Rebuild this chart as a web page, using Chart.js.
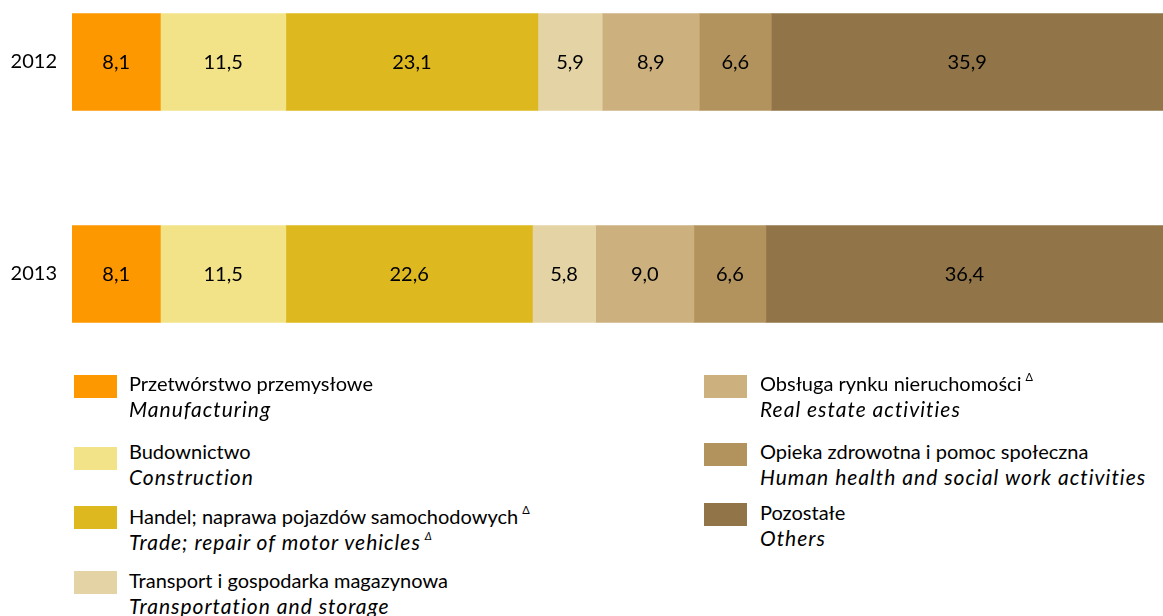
<!DOCTYPE html>
<html>
<head>
<meta charset="utf-8">
<script src="https://cdn.jsdelivr.net/npm/chart.js@4/dist/chart.umd.min.js"></script>
<style>
  html, body { margin: 0; padding: 0; background: #fff; }
  body { width: 1163px; height: 616px; position: relative; overflow: hidden; font-family: Lato, sans-serif; }
  #wrap { position: absolute; left: 0; top: -44.5px; width: 1163px; height: 424px; }
  .sw { position: absolute; width: 43px; height: 23px; }
  .txt { position: absolute; font-size: 20px; line-height: 26px; color: #000; white-space: nowrap; }
  .txt i { font-style: italic; font-size: 21px; letter-spacing: 1px; }
  sup { font-size: 11px; line-height: 0; vertical-align: 0; position: relative; top: -10px; margin-left: 4px; letter-spacing: 0; }
</style>
</head>
<body>
<div id="wrap"><canvas id="c"></canvas></div>
<div id="legend"></div>
<script>
const years = ["2012", "2013"];
const seriesPL = ["Przetwórstwo przemysłowe", "Budownictwo", "Handel; naprawa pojazdów samochodowych", "Transport i gospodarka magazynowa", "Obsługa rynku nieruchomości", "Opieka zdrowotna i pomoc społeczna", "Pozostałe"];
const seriesEN = ["Manufacturing", "Construction", "Trade; repair of motor vehicles", "Transportation and storage", "Real estate activities", "Human health and social work activities", "Others"];
const deltaPL = [false, false, true, false, true, false, false];
const deltaEN = [false, false, true, false, false, false, false];
const manufacturing = [8.1, 8.1];
const construction = [11.5, 11.5];
const trade = [23.1, 22.6];
const transport = [5.9, 5.8];
const realEstate = [8.9, 9.0];
const health = [6.6, 6.6];
const others = [35.9, 36.4];
const colors = ["#FD9800", "#F2E389", "#DDB81E", "#E3D3A5", "#CCB17F", "#B3935D", "#917447"];

const values = [manufacturing, construction, trade, transport, realEstate, health, others];

const valueLabels = {
  id: 'valueLabels',
  afterDatasetsDraw(chart) {
    const ctx = chart.ctx;
    ctx.save();
    ctx.fillStyle = '#000';
    ctx.font = '20px Lato, sans-serif';
    ctx.textAlign = 'center';
    ctx.textBaseline = 'middle';
    chart.data.datasets.forEach((ds, di) => {
      chart.getDatasetMeta(di).data.forEach((bar, i) => {
        const cx = (bar.x + bar.base) / 2;
        ctx.fillText(ds.data[i].toFixed(1).replace('.', ','), cx, bar.y + 1);
      });
    });
    ctx.restore();
  }
};

new Chart(document.getElementById('c'), {
  type: 'bar',
  data: {
    labels: years,
    datasets: seriesPL.map((name, k) => ({
      label: name,
      data: values[k],
      backgroundColor: colors[k],
      borderWidth: 0,
      barThickness: 97
    }))
  },
  options: {
    indexAxis: 'y',
    responsive: true,
    maintainAspectRatio: false,
    animation: false,
    layout: { padding: 0 },
    plugins: { legend: { display: false }, tooltip: { enabled: false } },
    scales: {
      x: { stacked: true, min: 0, max: 100, display: false },
      y: {
        stacked: true,
        grid: { display: false },
        border: { display: false },
        ticks: { color: '#000', font: { size: 20, family: 'Lato, sans-serif' }, padding: 7 },
        afterFit(scale) { scale.width = 72; scale.paddingTop = 0; scale.paddingBottom = 0; }
      }
    }
  },
  plugins: [valueLabels]
});

// legend
const pos = [
  { sx: 74, sy: 375, tx: 129, ty: 370 },
  { sx: 74, sy: 447, tx: 129, ty: 438 },
  { sx: 74, sy: 506, tx: 129, ty: 503 },
  { sx: 74, sy: 571, tx: 129, ty: 567 },
  { sx: 704, sy: 375, tx: 760, ty: 370 },
  { sx: 704, sy: 443, tx: 760, ty: 438 },
  { sx: 704, sy: 503, tx: 760, ty: 499 }
];
const lg = document.getElementById('legend');
seriesPL.forEach((name, k) => {
  const p = pos[k];
  const sw = document.createElement('div');
  sw.className = 'sw';
  sw.style.left = p.sx + 'px'; sw.style.top = p.sy + 'px';
  sw.style.background = colors[k];
  lg.appendChild(sw);
  const t = document.createElement('div');
  t.className = 'txt';
  t.style.left = p.tx + 'px'; t.style.top = p.ty + 'px';
  t.innerHTML = name + (deltaPL[k] ? '<sup>Δ</sup>' : '') + '<br><i>' + seriesEN[k] + (deltaEN[k] ? '<sup>Δ</sup>' : '') + '</i>';
  lg.appendChild(t);
});
</script>
</body>
</html>
